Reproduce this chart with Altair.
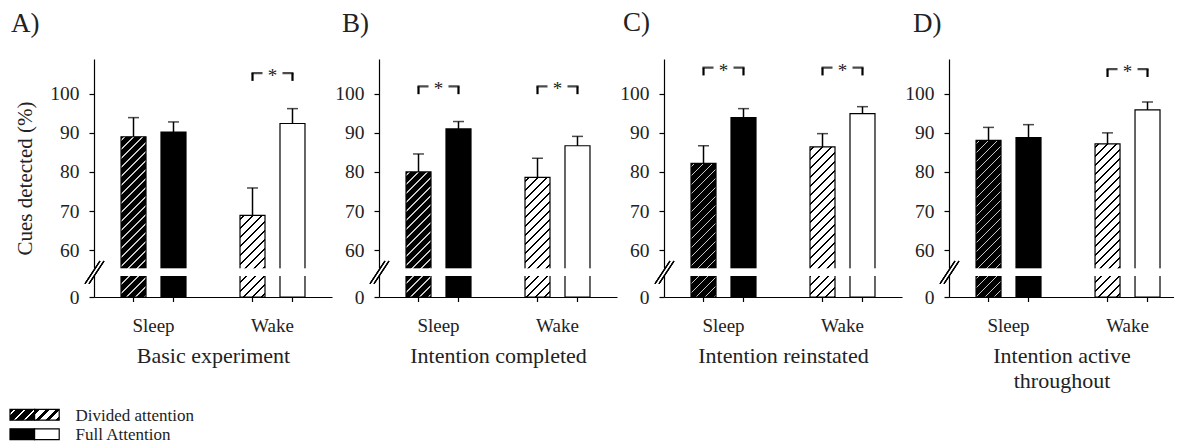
import altair as alt
import pandas as pd

# ---------------- data ----------------
panel_labels = ["A)", "B)", "C)", "D)"]
panel_subtitles = ["Basic experiment", "Intention completed", "Intention reinstated",
                   ["Intention active", "throughout"]]
conditions = ["Sleep", "Wake"]
attention = ["Divided", "Full"]
legend_labels = ["Divided attention", "Full Attention"]
y_title = "Cues detected (%)"
y_ticks = [60, 70, 80, 90, 100]

# bar order: Sleep-Divided, Sleep-Full, Wake-Divided, Wake-Full
mean_A = [89.0, 90.2, 68.9, 92.4]
mean_B = [80.0, 91.0, 78.6, 86.7]
mean_C = [82.2, 93.9, 86.4, 94.9]
mean_D = [88.1, 88.8, 87.2, 95.9]
sem_A = [4.9, 2.6, 7.0, 3.8]
sem_B = [4.6, 1.9, 4.9, 2.4]
sem_C = [4.5, 2.3, 3.4, 1.8]
sem_D = [3.3, 3.3, 2.8, 2.0]
sig_A = ["Wake"]
sig_B = ["Sleep", "Wake"]
sig_C = ["Sleep", "Wake"]
sig_D = ["Wake"]
bracket_A = 105.3
bracket_B = 101.9
bracket_C = 106.7
bracket_D = 106.3

# ---------------- style ----------------
SERIF = "Liberation Serif"
TXT = "#222222"
H = 238
ZERO_AT = 48.0          # where the broken axis shows "0"
Y_MAX = 108.9
GAP = (53.4, 55.2)      # white break band
BAR_W = 25.0
PERIOD = 9.0


def bar_px_height(v):
    return (v - ZERO_AT) * H / (Y_MAX - ZERO_AT)


def hatch(w, h, bg, fg, thick, period=PERIOD, offset=3.0):
    total = w + h
    c = total / (w * w + h * h)
    stops = [(0.0, bg)]
    s = offset
    while s < total:
        a = s / total
        b = min((s + thick) / total, 1.0)
        stops += [(a, bg), (a, fg), (b, fg), (b, bg)]
        s += period
    stops.append((1.0, bg))
    return alt.LinearGradient(
        gradient="linear", x1=0, y1=0, x2=c * w, y2=c * h,
        stops=[alt.GradientStop(offset=o, color=col) for o, col in stops])


yscale = alt.Scale(domain=[ZERO_AT, Y_MAX], nice=False, zero=False)
yaxis = alt.Axis(values=[ZERO_AT] + y_ticks,
                 labelExpr=f"datum.value == {ZERO_AT} ? '0' : datum.label",
                 labelFont=SERIF, labelFontSize=19.5, labelPadding=10,
                 titleFont=SERIF, titleFontSize=21, titlePadding=14)


def make_panel(idx, means, sems, sigs, blevel, width, xpad_outer, xalign, title_dx):
    rows = []
    k = 0
    for c in conditions:
        for a in attention:
            rows.append(dict(cond=c, attn=a, mean=means[k], upper=means[k] + sems[k]))
            k += 1
    df = pd.DataFrame(rows)
    sig_df = pd.DataFrame([dict(cond=c, level=blevel) for c in sigs])
    leg_df = pd.DataFrame([dict(cond=c, attn=a, level=blevel, legbot=blevel - 2.0)
                           for c in sigs for a in attention])

    xs = alt.Scale(domain=conditions, paddingInner=0.454, paddingOuter=xpad_outer, align=xalign)
    xenc = alt.X("cond:N", scale=xs, title=panel_subtitles[idx])
    xo = alt.XOffset("attn:N", scale=alt.Scale(domain=attention, paddingInner=0.375, paddingOuter=0))
    ytitle = y_title if idx == 0 else None

    def Y(field):
        return alt.Y(field, type="quantitative", scale=yscale, axis=yaxis, title=ytitle)

    base = alt.Chart(df)
    full = base.transform_filter(alt.datum.attn == "Full").mark_bar(
        stroke="black", strokeWidth=1.2).encode(
        x=xenc, xOffset=xo, y=Y("mean"), y2=alt.datum(ZERO_AT),
        fill=alt.condition(alt.datum.cond == "Sleep", alt.value("black"), alt.value("white")))

    layers = [full]
    for k2, c in enumerate(conditions):
        v = means[2 * k2]
        h = bar_px_height(v)
        if c == "Sleep":
            g = hatch(BAR_W, h, "#000000", "#c8c8c8", 1.6)
        else:
            g = hatch(BAR_W, h, "#ffffff", "#000000", 1.9)
        layers.append(
            base.transform_filter((alt.datum.attn == "Divided") & (alt.datum.cond == c))
            .mark_bar(fill=g, stroke="black", strokeWidth=1.2)
            .encode(x=xenc, xOffset=xo, y=Y("mean"), y2=alt.datum(ZERO_AT)))

    err = base.mark_rule(color="black", strokeWidth=1.5).encode(
        x=xenc, xOffset=xo, y=Y("mean"), y2="upper:Q")
    cap = base.mark_tick(color="black", thickness=1.5, size=11, orient="horizontal").encode(
        x=xenc, xOffset=xo, y=Y("upper"))
    gap = base.mark_rect(color="white").encode(
        x=alt.value(-4), x2=alt.value(width), y=alt.datum(GAP[1]), y2=alt.datum(GAP[0]))
    mid = (GAP[0] + GAP[1]) / 2
    brk1 = base.mark_rule(color="black", strokeWidth=1.1).encode(
        x=alt.value(-9), x2=alt.value(6), y=alt.datum(mid - 2.9), y2=alt.datum(mid + 2.9))
    brk2 = base.mark_rule(color="black", strokeWidth=1.1).encode(
        x=alt.value(-5), x2=alt.value(10), y=alt.datum(mid - 2.9), y2=alt.datum(mid + 2.9))
    xt = base.mark_rule(color="black", strokeWidth=1.2).encode(
        x=xenc, xOffset=xo, y=alt.datum(ZERO_AT), y2=alt.value(H + 5))
    layers += [err, cap, gap, brk1, brk2, xt]

    if len(sigs):
        sb = alt.Chart(sig_df)
        hline = sb.mark_tick(color="black", thickness=2.2, size=42, orient="horizontal").encode(
            x=xenc, y=Y("level"))
        legs = alt.Chart(leg_df).mark_rule(color="black", strokeWidth=2.2).encode(
            x=xenc, xOffset=xo, y=Y("level"), y2="legbot:Q")
        bg = sb.mark_square(color="white", size=400, opacity=1).encode(x=xenc, y=Y("level"))
        star = sb.mark_text(text="*", font=SERIF, fontSize=19, color=TXT,
                            baseline="alphabetic", dy=9).encode(x=xenc, y=Y("level"))
        layers += [hline, legs, bg, star]

    return alt.layer(*layers).properties(
        width=width, height=H,
        title=alt.TitleParams(text=panel_labels[idx], anchor="start", frame="group",
                              dx=title_dx, fontSize=27, font=SERIF, fontWeight="normal",
                              color=TXT, baseline="alphabetic", offset=0))


pA = make_panel(0, mean_A, sem_A, sig_A, bracket_A, 238, 0.227, 0.5, -83)
pB = make_panel(1, mean_B, sem_B, sig_B, bracket_B, 238, 0.227, 0.5, -37)
pC = make_panel(2, mean_C, sem_C, sig_C, bracket_C, 238, 0.227, 0.5, -41)
pD = make_panel(3, mean_D, sem_D, sig_D, bracket_D, 225, 0.1723, 0.659, -36)

row = alt.hconcat(pA, pB, pC, pD, spacing=2)

# ---------------- legend ----------------
SW = 24.6
LEG_SHIFT = 84          # legend sits left of panel A's plot area
lg_df = pd.DataFrame([dict(label=l) for l in legend_labels])
lys = alt.Scale(domain=legend_labels, paddingInner=0.44, paddingOuter=0.22)
lxs = alt.Scale(domain=[LEG_SHIFT, LEG_SHIFT + 220], nice=False, zero=False)
lb = alt.Chart(lg_df)
sw_h = 10.9
leg_layers = [
    lb.transform_filter(alt.datum.label == legend_labels[0]).mark_rect(
        fill=hatch(SW, sw_h, "#000000", "#ffffff", 2.4, period=10, offset=4),
        stroke="black", strokeWidth=1.2).encode(
        x=alt.datum(0, scale=lxs, axis=None), x2=alt.datum(SW),
        y=alt.Y("label:N", scale=lys, axis=None)),
    lb.transform_filter(alt.datum.label == legend_labels[0]).mark_rect(
        fill=hatch(SW, sw_h, "#ffffff", "#000000", 3.4, period=10, offset=2),
        stroke="black", strokeWidth=1.2).encode(
        x=alt.datum(SW, scale=lxs, axis=None), x2=alt.datum(2 * SW),
        y=alt.Y("label:N", scale=lys, axis=None)),
    lb.transform_filter(alt.datum.label == legend_labels[1]).mark_rect(
        fill="black", stroke="black", strokeWidth=1.2).encode(
        x=alt.datum(0, scale=lxs, axis=None), x2=alt.datum(SW),
        y=alt.Y("label:N", scale=lys, axis=None)),
    lb.transform_filter(alt.datum.label == legend_labels[1]).mark_rect(
        fill="white", stroke="black", strokeWidth=1.2).encode(
        x=alt.datum(SW, scale=lxs, axis=None), x2=alt.datum(2 * SW),
        y=alt.Y("label:N", scale=lys, axis=None)),
    lb.mark_text(align="left", baseline="middle", font=SERIF, fontSize=17, color=TXT, dy=1).encode(
        x=alt.datum(65.5, scale=lxs, axis=None),
        y=alt.Y("label:N", scale=lys, axis=None), text="label:N"),
]
legend = alt.layer(*leg_layers).properties(width=220, height=39)

chart = alt.vconcat(row, legend, spacing=14).properties(
    padding={"left": 1, "top": 0, "right": 0, "bottom": 0}
).configure_view(stroke=None).configure_concat(spacing=2).configure_axisY(
    grid=False, tickSize=5, tickColor="black", tickWidth=1.2,
    domainColor="black", domainWidth=1.2, labelFont=SERIF,
    labelFontSize=19.5, labelColor=TXT, labelPadding=10,
    titleFont=SERIF, titleFontSize=21, titleFontWeight="normal",
    titleColor=TXT, titlePadding=14
).configure_axisX(
    ticks=False, labelAngle=0, labelFont=SERIF, labelFontSize=19,
    labelColor=TXT, labelPadding=19, domainColor="black", domainWidth=1.2,
    titleFont=SERIF, titleFontSize=22, titleFontWeight="normal",
    titleColor=TXT, titlePadding=10, titleLineHeight=25
)

chart.save("out.html", embed_options={"renderer": "svg", "actions": False})
